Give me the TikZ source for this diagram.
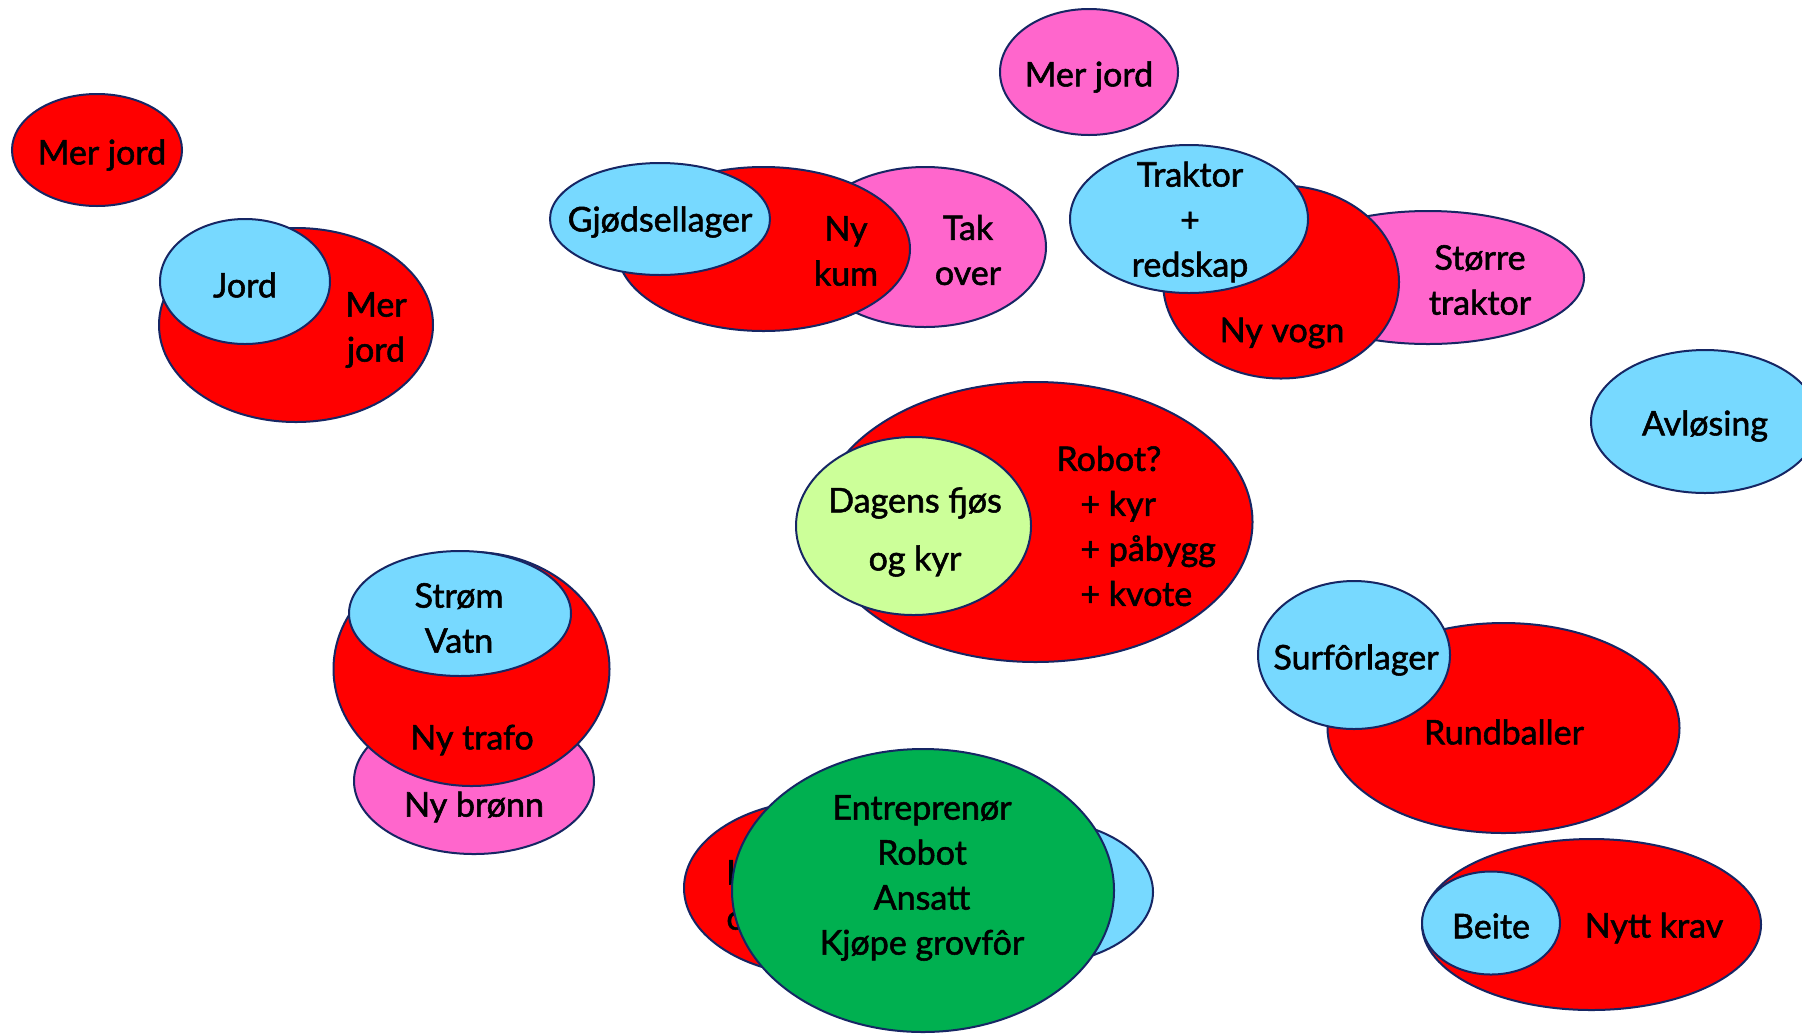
\documentclass[tikz,border=0pt]{standalone}
\usepackage{fontspec}
\setmainfont{Lato}[FakeBold=1.6]
\usetikzlibrary{shapes.geometric}
\definecolor{edge}{RGB}{22,38,100}
\definecolor{cred}{RGB}{255,0,0}
\definecolor{cblue}{RGB}{119,217,255}
\definecolor{cpink}{RGB}{255,102,204}
\definecolor{clgreen}{RGB}{204,255,153}
\definecolor{cgreen}{RGB}{0,176,80}
\tikzset{
  ell/.style={ellipse, draw=edge, line width=1pt, inner sep=0pt},
  redell/.style={ell, fill=cred},
  blueell/.style={ell, fill=cblue},
  pinkell/.style={ell, fill=cpink},
  lgell/.style={ell, fill=clgreen},
  gell/.style={ell, fill=cgreen},
  txt/.style={inner sep=0pt, align=center, font=\fontsize{17pt}{22.5pt}\selectfont},
}
\begin{document}
\begin{tikzpicture}[x=0.5pt,y=-0.5pt]
\clip (0,0) rectangle (1802,1034);
\fill[white] (0,0) rectangle (1802,1034);
% top-left
\node[redell, minimum width=85pt, minimum height=56pt] (e1) at (97,150) {};
\node[txt] (t1) at (102,155) {Mer jord};
% Jord group
\node[redell, minimum width=137pt, minimum height=97pt] (e2) at (296,325) {};
\node[txt] (t3) at (376,330) {Mer\\jord};
\node[blueell, minimum width=85pt, minimum height=62.5pt] (e3) at (245,281.5) {};
\node[txt] (t2) at (245,285) {Jord};
% Gjodsellager group
\node[pinkell, minimum width=121pt, minimum height=80pt] (e4) at (925,247) {};
\node[txt] (t6) at (968,250) {Tak\\over};
\node[redell, minimum width=146.5pt, minimum height=82pt] (e5) at (763.5,249) {};
\node[txt] (t5) at (846,251) {Ny\\kum};
\node[blueell, minimum width=110pt, minimum height=56pt] (e6) at (660,219) {};
\node[txt] (t4) at (660,222) {Gjødsellager};
% top pink
\node[pinkell, minimum width=89pt, minimum height=63pt] (e7) at (1089,72) {};
\node[txt] (t7) at (1089,77) {Mer jord};
% Traktor group
\node[pinkell, minimum width=156pt, minimum height=66.5pt] (e8) at (1428,277.5) {};
\node[txt] (t10) at (1480,280) {Større\\traktor};
\node[redell, minimum width=118pt, minimum height=96.5pt] (e9) at (1281,282) {};
\node[txt] (t9) at (1282,333) {Ny vogn};
\node[blueell, minimum width=119pt, minimum height=74pt] (e10) at (1189,219) {};
\node[txt] (t8) at (1190,222) {Traktor\\+\\redskap};
% Avlosing
\node[blueell, minimum width=114pt, minimum height=71.5pt] (e11) at (1705,421.5) {};
\node[txt] (t11) at (1705,426) {Avløsing};
% Robot group
\node[redell, minimum width=217pt, minimum height=140pt] (e12) at (1035.5,522) {};
\node[txt, anchor=west, align=left] (t12) at (1056,526) {Robot?\\\hspace*{12pt}+ kyr\\\hspace*{12pt}+ påbygg\\\hspace*{12pt}+ kvote};
\node[lgell, minimum width=117.5pt, minimum height=89pt] (e13) at (913.5,526) {};
\node[txt, font=\fontsize{17pt}{29pt}\selectfont] (t13) at (915,532) {Dagens fjøs\\og kyr};
% Strom group
\node[pinkell, minimum width=120pt, minimum height=73pt] (e14) at (474,781) {};
\node[txt] (t16) at (474,807) {Ny brønn};
\node[redell, minimum width=138pt, minimum height=117pt] (e15) at (471.5,669) {};
\node[txt] (t15) at (472,740) {Ny trafo};
\node[blueell, minimum width=111pt, minimum height=62.5pt] (e16) at (460,613.5) {};
\node[txt] (t14) at (459,618) {Strøm\\Vatn};
% Entreprenor group
\node[redell, minimum width=140pt, minimum height=88pt] (e17) at (824,888) {};
\node[txt, anchor=west, align=left] (t18) at (726,895) {I\\c};
\node[blueell, minimum width=120pt, minimum height=73pt] (e18) at (1033,892) {};
\node[gell, minimum width=191pt, minimum height=141.5pt] (e19) at (923,890.5) {};
\node[txt] (t17) at (922,878) {Entreprenør\\Robot\\Ansatt\\Kjøpe grovfôr};
% Rundballer group
\node[redell, minimum width=176pt, minimum height=105pt] (e20) at (1503.5,728) {};
\node[txt] (t20) at (1504,732) {Rundballer};
\node[blueell, minimum width=96pt, minimum height=74pt] (e21) at (1354,655) {};
\node[txt] (t19) at (1356,660) {Surfôrlager};
% Nytt krav group
\node[redell, minimum width=169.5pt, minimum height=85.5pt] (e22) at (1591.5,924.5) {};
\node[txt] (t22) at (1654,928) {Nytt krav};
\node[blueell, minimum width=69pt, minimum height=51.5pt] (e23) at (1491,923) {};
\node[txt] (t21) at (1491,926) {Beite};
\end{tikzpicture}
\end{document}
